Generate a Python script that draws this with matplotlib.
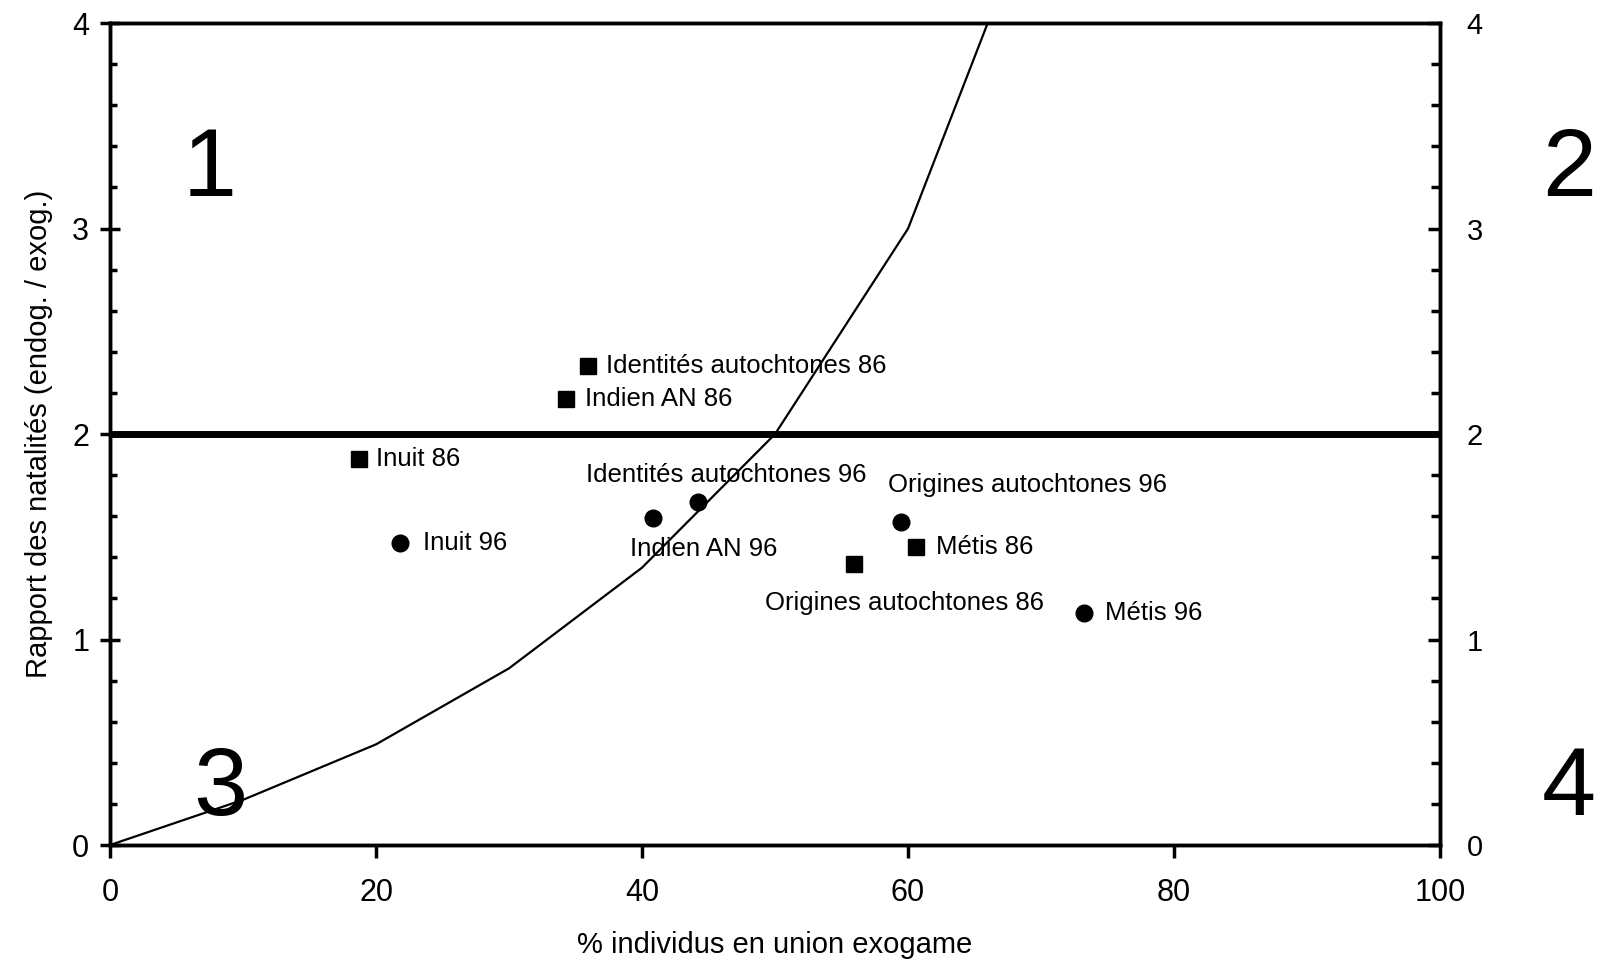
import matplotlib.pyplot as plt
from matplotlib.ticker import MultipleLocator

plt.rcParams['font.family'] = ['Liberation Sans', 'DejaVu Sans']
lab_font = ['Liberation Sans Narrow', 'Liberation Sans', 'DejaVu Sans']

# curve (piecewise between 10% steps)
curve_x = [0, 10, 20, 30, 40, 50, 60, 70]
curve_y = [0, 0.22, 0.49, 0.86, 1.35, 2.0, 3.0, 4.67]

# 1986 series (squares)
sq_names = ['Identités autochtones 86', 'Indien AN 86', 'Inuit 86', 'Métis 86', 'Origines autochtones 86']
sq_x = [35.9, 34.3, 18.7, 60.6, 55.9]
sq_y = [2.33, 2.17, 1.88, 1.45, 1.37]

# 1996 series (circles)
ci_names = ['Inuit 96', 'Indien AN 96', 'Identités autochtones 96', 'Origines autochtones 96', 'Métis 96']
ci_x = [21.8, 40.8, 44.2, 59.5, 73.2]
ci_y = [1.47, 1.59, 1.67, 1.57, 1.13]

threshold = 2

fig = plt.figure(figsize=(16.04, 9.63), dpi=100)
ax = fig.add_axes([0.0686, 0.1225, 0.8292, 0.8535])

ax.plot(curve_x, curve_y, color='black', lw=1.6, zorder=2)
ax.axhline(threshold, color='black', lw=5, zorder=2)
ax.plot(sq_x, sq_y, 's', color='black', ms=12, zorder=3)
ax.plot(ci_x, ci_y, 'o', color='black', ms=12, zorder=3)

# labels: (text, x, y, ha)
labels = [
    ('Identités autochtones 86', 37.3, 2.33, 'left'),
    ('Indien AN 86', 35.7, 2.17, 'left'),
    ('Inuit 86', 20.0, 1.88, 'left'),
    ('Métis 86', 62.1, 1.45, 'left'),
    ('Origines autochtones 86', 59.7, 1.18, 'center'),
    ('Inuit 96', 23.5, 1.47, 'left'),
    ('Indien AN 96', 44.6, 1.44, 'center'),
    ('Identités autochtones 96', 46.3, 1.80, 'center'),
    ('Origines autochtones 96', 69.0, 1.75, 'center'),
    ('Métis 96', 74.8, 1.13, 'left'),
]
for t, x, y, ha in labels:
    ax.text(x, y, t, ha=ha, va='center', fontsize=18.5, family=lab_font, zorder=4)

ax.set_xlim(0, 100)
ax.set_ylim(0, 4)
ax.xaxis.set_major_locator(MultipleLocator(20))
ax.yaxis.set_major_locator(MultipleLocator(1))
ax.yaxis.set_minor_locator(MultipleLocator(0.2))
ax.tick_params(axis='x', direction='out', length=9, width=2.5, labelsize=22, pad=15, top=False)
ax.tick_params(axis='y', which='major', direction='inout', length=14, width=2.5, labelsize=22, pad=8)
ax.tick_params(axis='y', which='minor', direction='in', length=5, width=2.5)
for s in ax.spines.values():
    s.set_linewidth(2.5)

ax2 = ax.twinx()
ax2.set_ylim(0, 4)
ax2.yaxis.set_major_locator(MultipleLocator(1))
ax2.yaxis.set_minor_locator(MultipleLocator(0.2))
ax2.tick_params(axis='y', which='major', direction='in', length=9, width=2.5, labelsize=21, pad=19)
ax2.tick_params(axis='y', which='minor', direction='in', length=6.5, width=2.5)
for s in ax2.spines.values():
    s.set_linewidth(2.5)

ax.set_xlabel('% individus en union exogame', fontsize=21, labelpad=16)
ax.set_ylabel('Rapport des natalités (endog. / exog.)', fontsize=21, labelpad=14)

# quadrant numbers
ax.text(7.5, 3.28, '1', fontsize=70, ha='center', va='center')
ax.text(109.7, 3.28, '2', fontsize=70, ha='center', va='center', clip_on=False)
ax.text(8.3, 0.27, '3', fontsize=70, ha='center', va='center')
ax.text(109.7, 0.27, '4', fontsize=70, ha='center', va='center', clip_on=False)

fig.savefig('out.png', dpi=100)
